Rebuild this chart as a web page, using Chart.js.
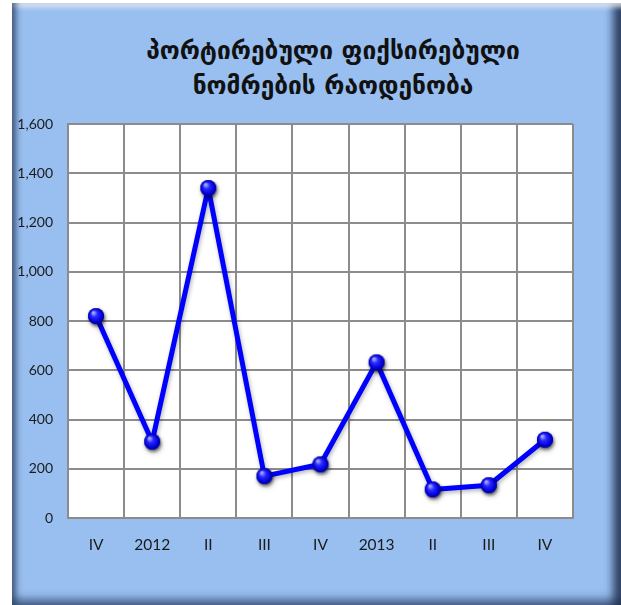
<!DOCTYPE html>
<html>
<head>
<meta charset="utf-8">
<script src="https://cdn.jsdelivr.net/npm/chart.js@4/dist/chart.umd.min.js"></script>
<style>
  html, body { margin: 0; padding: 0; background: #fff; }
  #wrap { position: relative; width: 621px; height: 605px; overflow: hidden; }
  #frame {
    position: absolute; left: 12px; top: 3px; width: 612px; height: 605px;
    background: #98bff0;
    box-shadow:
      inset 7px 0 6px -3px rgba(40, 60, 95, 0.75),
      inset 0 7px 5px -3px rgba(255, 255, 255, 0.8),
      inset -14px 0 9px -3px rgba(30, 45, 75, 0.85),
      inset 0 -12px 8px -3px rgba(40, 60, 95, 0.7);
  }
  #title {
    position: absolute; left: 0; width: 666px; top: 33px;
    text-align: center; font-family: "DejaVu Sans"; font-weight: bold;
    font-size: 24.5px; line-height: 35px; color: #111;
  }
  canvas { position: absolute; left: 0; top: 0; }
</style>
</head>
<body>
<div id="wrap">
  <div id="frame"></div>
  <div id="title">პორტირებული ფიქსირებული<br>ნომრების რაოდენობა</div>
  <canvas id="c" width="621" height="605"></canvas>
</div>
<script>
const categories = ['IV', '2012', 'II', 'III', 'IV', '2013', 'II', 'III', 'IV'];
const portedNumbers = [820, 310, 1340, 170, 218, 632, 116, 133, 318];
const yTicks = [0, 200, 400, 600, 800, 1000, 1200, 1400, 1600];

// blue glossy ball for the markers
function makeBall(r) {
  const size = r * 2 + 8;
  const cv = document.createElement('canvas');
  cv.width = size; cv.height = size;
  const g = cv.getContext('2d');
  const c = size / 2;
  g.save();
  g.shadowColor = 'rgba(0,0,0,0.45)';
  g.shadowBlur = 3;
  g.shadowOffsetX = 1;
  g.shadowOffsetY = 2;
  g.beginPath();
  g.arc(c, c, r, 0, Math.PI * 2);
  g.fillStyle = '#0000c8';
  g.fill();
  g.restore();
  const grad = g.createRadialGradient(c - r * 0.35, c - r * 0.45, r * 0.1, c, c, r);
  grad.addColorStop(0, '#a8a8ff');
  grad.addColorStop(0.35, '#2a2aff');
  grad.addColorStop(0.8, '#0000d8');
  grad.addColorStop(1, '#00008c');
  g.beginPath();
  g.arc(c, c, r, 0, Math.PI * 2);
  g.fillStyle = grad;
  g.fill();
  return cv;
}
const ball = makeBall(8);

const lineShadow = {
  id: 'lineShadow',
  beforeDatasetsDraw(chart) {
    const ctx = chart.ctx;
    ctx.save();
    ctx.shadowColor = 'rgba(0,0,0,0.3)';
    ctx.shadowBlur = 4;
    ctx.shadowOffsetX = 1;
    ctx.shadowOffsetY = 2;
  },
  afterDatasetsDraw(chart) {
    chart.ctx.restore();
  }
};

const plotBg = {
  id: 'plotBg',
  beforeDraw(chart) {
    const a = chart.chartArea, ctx = chart.ctx;
    ctx.save();
    ctx.fillStyle = '#ffffff';
    ctx.fillRect(a.left, a.top, a.right - a.left, a.bottom - a.top);
    ctx.restore();
  }
};

new Chart(document.getElementById('c'), {
  type: 'line',
  data: {
    labels: categories,
    datasets: [{
      data: portedNumbers,
      borderColor: '#0000ff',
      borderWidth: 5,
      borderJoinStyle: 'round',
      borderCapStyle: 'round',
      pointStyle: ball,
      pointRadius: 8,
      pointHoverRadius: 8,
      tension: 0
    }]
  },
  options: {
    responsive: false,
    animation: false,
    devicePixelRatio: 1,
    layout: { padding: { left: 0, right: 48, top: 124, bottom: 0 } },
    plugins: {
      legend: { display: false },
      tooltip: { enabled: false },
      title: { display: false }
    },
    scales: {
      x: {
        offset: true,
        grid: { offset: true, color: '#8c8c8c', lineWidth: 2, drawTicks: false },
        border: { color: '#8c8c8c', width: 2 },
        ticks: { color: '#1a1a1a', font: { family: 'Lato', size: 15.5 }, padding: 18, maxRotation: 0 },
        afterFit(s) { s.height = 87; }
      },
      y: {
        min: 0, max: 1600,
        afterBuildTicks(s) { s.ticks = yTicks.map(v => ({ value: v })); },
        grid: { color: '#8c8c8c', lineWidth: 2, drawTicks: false },
        border: { color: '#8c8c8c', width: 2 },
        ticks: {
          color: '#1a1a1a', font: { family: 'Lato', size: 14 }, padding: 15,
          callback: v => v.toLocaleString('en-US')
        },
        afterFit(s) { s.width = 68; }
      }
    }
  },
  plugins: [plotBg, lineShadow]
});
</script>
</body>
</html>
